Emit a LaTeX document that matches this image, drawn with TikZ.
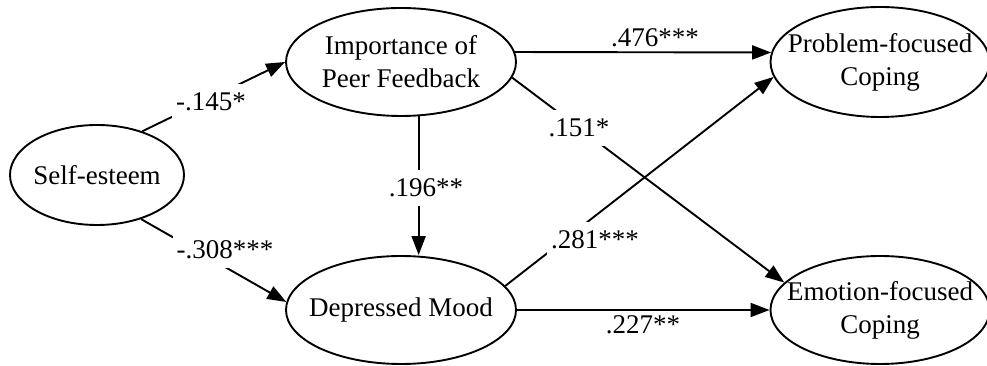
\documentclass[tikz,border=0pt]{standalone}
\usepackage{fontspec}
\setmainfont{Liberation Serif}
\usetikzlibrary{shapes,arrows.meta,calc}

\begin{document}
\begin{tikzpicture}[x=1pt, y=1pt,
        var/.style={draw, ellipse, line width=1.9pt, inner xsep=-18pt, inner ysep=0pt,
                    align=center, font=\fontsize{27}{33}\selectfont},
        link/.style={line width=1.9pt, -{Triangle[length=19pt,width=14pt]}},
        coef/.style={inner sep=2pt, font=\fontsize{27}{33}\selectfont},
        coefcut/.style={coef, fill=white, inner xsep=4pt, inner ysep=9pt}]
    \useasboundingbox (0,0) rectangle (987,366);
    % variables
    \node[var, minimum width=174pt, minimum height=100pt] (self) at (97,191) {Self-esteem};
    \node[var, minimum width=230pt, minimum height=108pt] (imp) at (401,304) {Importance of \\ Peer Feedback};
    \node[var, minimum width=230pt, minimum height=108pt] (dep) at (401,56) {Depressed Mood};
    \node[var, minimum width=219pt, minimum height=110pt] (prob) at (880,304) {Problem-focused \\ Coping};
    \node[var, minimum width=219pt, minimum height=108pt] (emo) at (880,56) {Emotion-focused \\ Coping};
    % paths
    \draw[link] (self.44) -- (imp.180);
    \draw[link] (self.-45) -- (dep.176);
    \draw[link] (imp.5) -- (prob.175);
    \draw[link] (imp.-8) -- (emo.164);
    \draw[link] (imp.-72) -- (imp.-72 |- dep.north);
    \draw[link] (dep.13) -- (prob.188);
    \draw[link] (dep.east) -- (emo.west);
    % coefficients
    \node[coefcut] (c145) at (211,264) {-.145*};
    \node[coefcut] (c308) at (225,116) {-.308***};
    \node[coef] (c476) at (655,328) {.476***};
    \node[coefcut] (c151) at (579,238) {.151*};
    \node[coefcut] (c196) at (426,178) {.196**};
    \node[coefcut] (c281) at (595,126) {.281***};
    \node[coef] (c227) at (643,41) {.227**};
\end{tikzpicture}
\end{document}
